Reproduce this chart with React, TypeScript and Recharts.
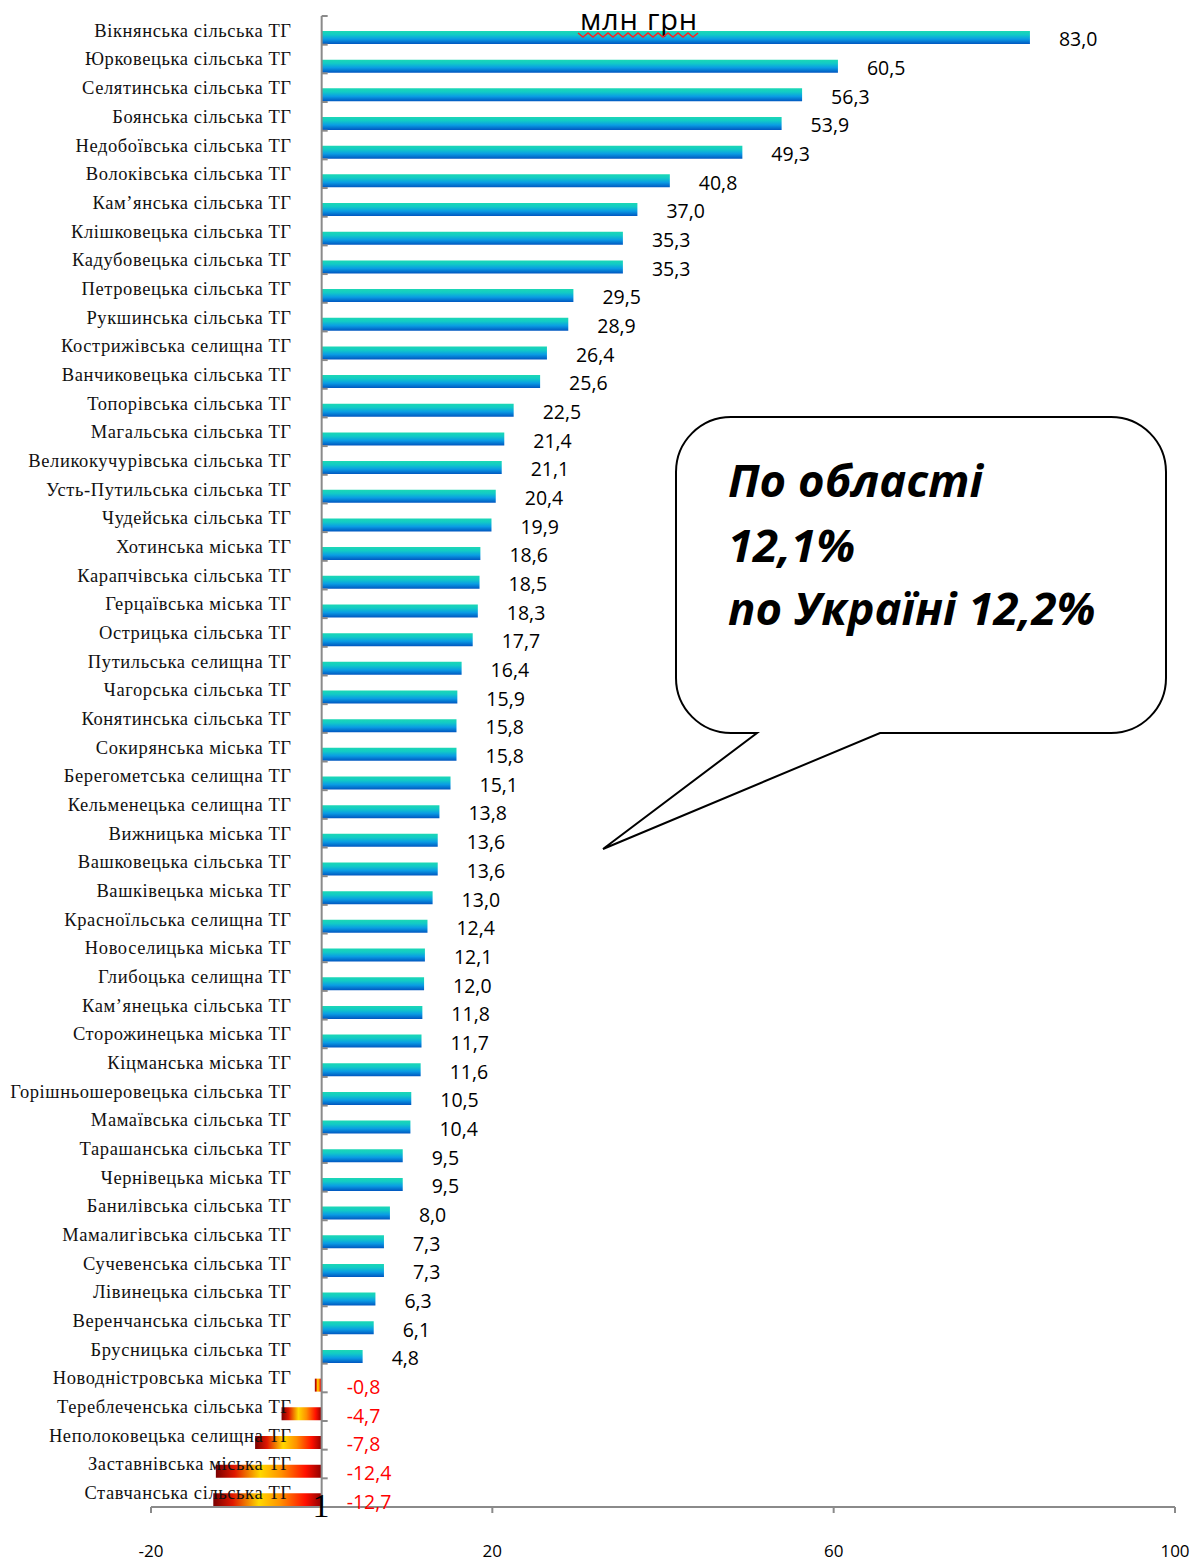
import React from 'react';
import { BarChart, Bar, XAxis, YAxis, ReferenceLine, Cell, LabelList } from 'recharts';

const categories = [
  'Вікнянська сільська ТГ', 'Юрковецька сільська ТГ', 'Селятинська сільська ТГ', 'Боянська сільська ТГ',
  'Недобоївська сільська ТГ', 'Волоківська сільська ТГ', 'Кам’янська сільська ТГ', 'Клішковецька сільська ТГ',
  'Кадубовецька сільська ТГ', 'Петровецька сільська ТГ', 'Рукшинська сільська ТГ', 'Кострижівська селищна ТГ',
  'Ванчиковецька сільська ТГ', 'Топорівська сільська ТГ', 'Магальська сільська ТГ', 'Великокучурівська сільська ТГ',
  'Усть-Путильська сільська ТГ', 'Чудейська сільська ТГ', 'Хотинська міська ТГ', 'Карапчівська сільська ТГ',
  'Герцаївська міська ТГ', 'Острицька сільська ТГ', 'Путильська селищна ТГ', 'Чагорська сільська ТГ',
  'Конятинська сільська ТГ', 'Сокирянська міська ТГ', 'Берегометська селищна ТГ', 'Кельменецька селищна ТГ',
  'Вижницька міська ТГ', 'Вашковецька сільська ТГ', 'Вашківецька міська ТГ', 'Красноїльська селищна ТГ',
  'Новоселицька міська ТГ', 'Глибоцька селищна ТГ', 'Кам’янецька сільська ТГ', 'Сторожинецька міська ТГ',
  'Кіцманська міська ТГ', 'Горішньошеровецька сільська ТГ', 'Мамаївська сільська ТГ', 'Тарашанська сільська ТГ',
  'Чернівецька міська ТГ', 'Банилівська сільська ТГ', 'Мамалигівська сільська ТГ', 'Сучевенська сільська ТГ',
  'Лівинецька сільська ТГ', 'Веренчанська сільська ТГ', 'Брусницька сільська ТГ', 'Новодністровська міська ТГ',
  'Тереблеченська сільська ТГ', 'Неполоковецька селищна ТГ', 'Заставнівська міська ТГ', 'Ставчанська сільська ТГ',
];

const values = [
  83.0, 60.5, 56.3, 53.9, 49.3, 40.8, 37.0, 35.3, 35.3, 29.5, 28.9, 26.4, 25.6, 22.5, 21.4, 21.1, 20.4, 19.9,
  18.6, 18.5, 18.3, 17.7, 16.4, 15.9, 15.8, 15.8, 15.1, 13.8, 13.6, 13.6, 13.0, 12.4, 12.1, 12.0, 11.8, 11.7,
  11.6, 10.5, 10.4, 9.5, 9.5, 8.0, 7.3, 7.3, 6.3, 6.1, 4.8, -0.8, -4.7, -7.8, -12.4, -12.7,
];

const xTicks = [-20, 20, 60, 100];

const W = 1201;
const H = 1564;
const MARGIN = { top: 16, right: 26, bottom: 0, left: 91 };
const Y_AXIS_W = 60;
const X_AXIS_H = 57;
const X_MIN = -20;
const X_MAX = 100;
const PLOT_LEFT = MARGIN.left + Y_AXIS_W;
const PLOT_W = W - PLOT_LEFT - MARGIN.right;
const ZERO_X = PLOT_LEFT + ((0 - X_MIN) / (X_MAX - X_MIN)) * PLOT_W;
const PLOT_H = H - MARGIN.top - MARGIN.bottom - X_AXIS_H;
const BAND = PLOT_H / categories.length;
const AXIS = '#8a8a8a';

const data = categories.map((name, i) => ({ name, value: values[i], pad: 0 }));

const fmt = (v: number) => v.toFixed(1).replace('.', ',');

const CategoryTick = (props: any) => {
  const { y, payload } = props;
  return (
    <g>
      <line x1={ZERO_X} x2={ZERO_X + 6} y1={y - BAND / 2} y2={y - BAND / 2} stroke={AXIS} strokeWidth={2} />
      <text
        x={ZERO_X - 30}
        y={y}
        dy="0.35em"
        textAnchor="end"
        fontFamily="'Liberation Serif', serif"
        fontSize={18.5}
        letterSpacing={0.6}
        fill="#111"
      >
        {payload.value}
      </text>
    </g>
  );
};

const ValueLabel = (props: any) => {
  const { x, y, width, height, value } = props;
  const right = Math.max(Number(x), Number(x) + Number(width));
  const neg = value < 0;
  return (
    <text
      x={right + (neg ? 25 : 29)}
      y={Number(y) + Number(height) / 2 + 2}
      dy="0.35em"
      fill={neg ? '#ff0000' : '#000'}
      fontFamily="'Open Sans', sans-serif"
      fontSize={19.5}
    >
      {fmt(value)}
    </text>
  );
};

// wavy spell-check line under "млн грн"
const wave = Array.from({ length: 25 }, (_, i) => `${578 + i * 5},${i % 2 === 0 ? 33 : 37}`).join(' ');

export default function App() {
  return (
    <div style={{ position: 'absolute', left: 0, top: 0, width: W, height: H, background: '#fff' }}>
      <BarChart
        width={W}
        height={H}
        data={data}
        layout="vertical"
        margin={MARGIN}
        barCategoryGap={0}
        barGap={0}
      >
        <defs>
          <linearGradient id="blueGrad" x1="0" y1="0" x2="0" y2="1">
            <stop offset="0%" stopColor="#1cd8b4" />
            <stop offset="28%" stopColor="#12cbc6" />
            <stop offset="62%" stopColor="#0a9ce4" />
            <stop offset="100%" stopColor="#0056c0" />
          </linearGradient>
          <linearGradient id="fireGrad" x1="0" y1="0" x2="1" y2="0">
            <stop offset="0%" stopColor="#7a0000" />
            <stop offset="18%" stopColor="#e01800" />
            <stop offset="42%" stopColor="#ffd800" />
            <stop offset="62%" stopColor="#ff9000" />
            <stop offset="85%" stopColor="#ff1000" />
            <stop offset="100%" stopColor="#900000" />
          </linearGradient>
        </defs>
        <XAxis
          type="number"
          domain={[X_MIN, X_MAX]}
          ticks={xTicks}
          height={X_AXIS_H}
          axisLine={{ stroke: AXIS, strokeWidth: 2 }}
          tickLine={{ stroke: AXIS, strokeWidth: 2 }}
          tickSize={6}
          tickMargin={32}
          tick={{ fill: '#000', fontSize: 17, fontFamily: "'Open Sans', sans-serif" }}
          allowDataOverflow
        />
        <YAxis
          type="category"
          dataKey="name"
          width={Y_AXIS_W}
          axisLine={false}
          tickLine={false}
          interval={0}
          tick={<CategoryTick />}
        />
        <Bar dataKey="pad" barSize={15} fill="none" isAnimationActive={false} />
        <Bar dataKey="value" barSize={13} isAnimationActive={false}>
          {values.map((v, i) => (
            <Cell key={i} fill={v < 0 ? 'url(#fireGrad)' : 'url(#blueGrad)'} />
          ))}
          <LabelList dataKey="value" content={<ValueLabel />} />
        </Bar>
        <ReferenceLine x={0} stroke={AXIS} strokeWidth={2} />
      </BarChart>

      <svg
        width={W}
        height={H}
        style={{ position: 'absolute', left: 0, top: 0, pointerEvents: 'none' }}
      >
        <text x={639} y={30} textAnchor="middle" fontFamily="'Open Sans', sans-serif" fontSize={29} letterSpacing={0.8} fill="#000">
          млн грн
        </text>
        <polyline points={wave} fill="none" stroke="#ff2020" strokeWidth={1.6} />
        <text x={321} y={1517} textAnchor="middle" fontFamily="'Liberation Serif', serif" fontSize={34} fill="#000">
          1
        </text>
        <path
          d="M 731 417 H 1111 A 55 55 0 0 1 1166 472 V 678 A 55 55 0 0 1 1111 733 H 880 L 603 849 L 757 733 H 731 A 55 55 0 0 1 676 678 V 472 A 55 55 0 0 1 731 417 Z"
          fill="#fff"
          stroke="#000"
          strokeWidth={2}
        />
        <g fontFamily="'Open Sans', sans-serif" fontWeight="bold" fontStyle="italic" fontSize={45.5} fill="#000">
          <text x={728} y={497}>По області</text>
          <text x={728} y={562}>12,1%</text>
          <text x={728} y={625}>по Україні 12,2%</text>
        </g>
      </svg>
    </div>
  );
}
